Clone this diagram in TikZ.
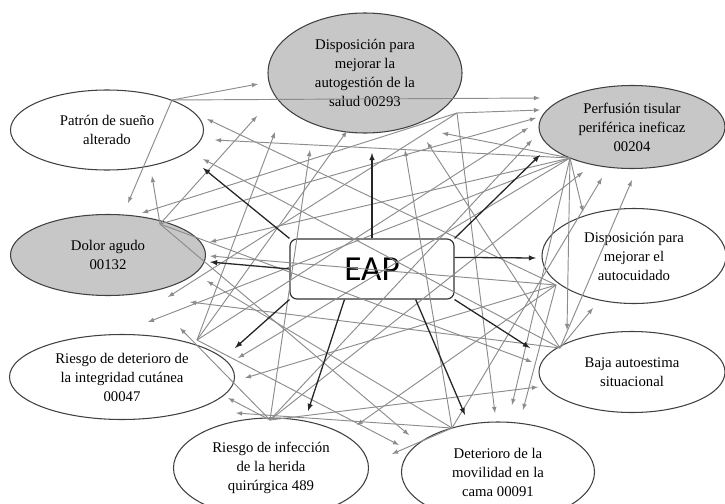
\documentclass[tikz,border=0pt]{standalone}
\usepackage{fontspec}
\setmainfont{Liberation Serif}
\newfontfamily\eapfont{Carlito}
\usetikzlibrary{shapes.geometric}

\tikzset{
  diag/.style={ellipse, draw=black!75, line width=0.9pt, inner sep=0pt, fill=white,
    align=center, font=\fontsize{12.6}{16.2}\selectfont},
  diaggray/.style={diag, fill=black!22},
  rel/.style={->, draw=black!45, line width=0.8pt},
  main/.style={->, draw=black!85, line width=1.1pt},
}

\begin{document}
\begin{tikzpicture}[>=latex, x=0.03cm, y=-0.03cm]
\useasboundingbox (0,0) rectangle (725,504);
\clip (0,0) rectangle (725,504);

% diagnosticos
\node[diag, minimum width=5.79cm, minimum height=2.4cm] (pat) at (107,130) {Patrón de sueño\\alterado};
\node[diaggray, minimum width=5.82cm, minimum height=3.6cm] (dis) at (365,73) {Disposición para\\mejorar la\\autogestión de la\\salud 00293};
\node[diaggray, minimum width=5.58cm, minimum height=2.49cm] (per) at (632,127) {Perfusión tisular\\periférica ineficaz\\00204};
\node[diaggray, minimum width=5.85cm, minimum height=2.43cm] (dol) at (108,255) {Dolor agudo\\00132};
\node[diag, minimum width=5.52cm, minimum height=2.85cm] (aut) at (634,256) {Disposición para\\mejorar el\\autocuidado};
\node[diag, minimum width=5.58cm, minimum height=2.43cm] (baj) at (632,372) {Baja autoestima\\situacional};
\node[diag, minimum width=6.75cm, minimum height=2.55cm] (int) at (122,377) {Riesgo de deterioro de\\la integridad cutánea\\00047};
\node[diag, minimum width=5.85cm, minimum height=3cm] (inf) at (271,468) {Riesgo de infección\\de la herida\\quirúrgica 489};
\node[diag, minimum width=5.79cm, minimum height=3cm] (mov) at (498,472) {Deterioro de la\\movilidad en la\\cama 00091};

\node[draw=black!80, line width=1pt, rounded corners=6pt, fill=white,
  minimum width=4.92cm, minimum height=1.8cm,
  font=\eapfont\fontsize{30}{30}\selectfont] (eap) at (372,269) {EAP};

% puntos de salida
\coordinate (hpat) at (172,100);
\coordinate (hdis) at (457,113);
\coordinate (hper) at (570,158);
\coordinate (hdol) at (160,224);
\coordinate (haut) at (556,285);
\coordinate (hbaj) at (560,348);
\coordinate (hint) at (197,340);
\coordinate (hinf) at (270,420);
\coordinate (hmov) at (452,428);

% relaciones entre diagnosticos
\foreach \h/\x/\y in {pat/258/84, pat/540/98, pat/128/203,
  dis/540/110, dis/142/213, dis/495/413, dis/168/297,
  per/215/140, per/442/133, per/583/212, per/567/330, per/512/405,
  per/210/242, per/238/358, per/148/322,
  dol/152/176, dol/257/116, dol/536/118, dol/532/362, dol/409/435,
  aut/207/119, aut/210/256, aut/245/378, aut/357/425, aut/523/410,
  baj/203/159, baj/427/142, baj/632/180, baj/593/308, baj/190/302,
  int/275/132, int/528/128, int/399/445, int/347/131,
  inf/310/150, inf/532/140, inf/538/387, inf/228/398, inf/180/328, inf/583/172,
  mov/405/150, mov/602/178, mov/236/413, mov/207/281, mov/392/454}
{
  \draw[rel] (h\h) -- (\x,\y);
}

% EAP hacia cada diagnostico
\draw[main] (eap.north west) -- (203,168);
\draw[main] (eap.north) -- (372,153);
\draw[main] (eap.north east) -- (540,155);
\draw[main] (eap.west) -- (210,262);
\draw[main] (eap.8) -- (536,258);
\draw[main] (eap.south east) -- (530,348);
\draw[main] (eap.south west) -- (235,348);
\draw[main] (eap.228) -- (308,411);
\draw[main] (eap.325) -- (465,415);
\end{tikzpicture}
\end{document}
